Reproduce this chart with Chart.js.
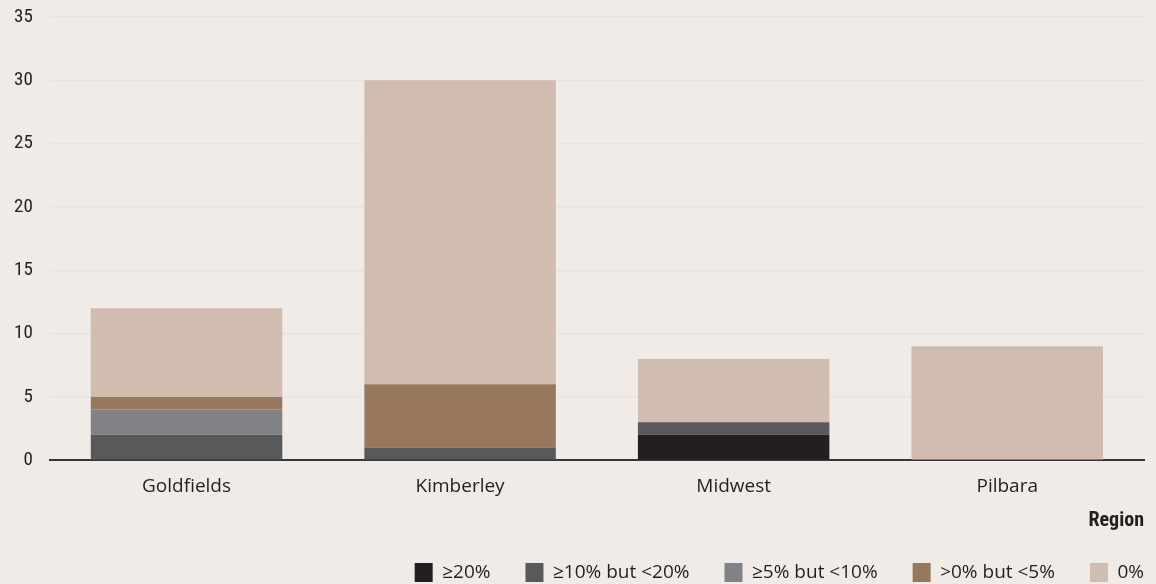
<!DOCTYPE html>
<html>
<head>
<meta charset="utf-8">
<script src="https://cdn.jsdelivr.net/npm/chart.js@4"></script>
<style>
  html, body { margin: 0; padding: 0; background: #f0ebe7; }
  #wrap { width: 1156px; height: 584px; }
</style>
</head>
<body>
<div id="wrap"><canvas id="c"></canvas></div>
<script>
// ── DATA ────────────────────────────────────────────────────────────────
const regions   = ['Goldfields', 'Kimberley', 'Midwest', 'Pilbara'];
const bandNames = ['≥20%', '≥10% but <20%', '≥5% but <10%', '>0% but <5%', '0%'];
const over20    = [0, 0, 2, 0];
const from10    = [2, 1, 1, 0];
const from5     = [2, 0, 0, 0];
const above0    = [1, 5, 0, 0];
const zero      = [7, 24, 5, 9];
const yTicks    = [0, 5, 10, 15, 20, 25, 30, 35];

const bandColors = ['#231f20', '#58595b', '#808285', '#98785c', '#d1bdb0'];
const series = [over20, from10, from5, above0, zero];

const datasets = series.map(function(vals, i) {
  return {
    label:           bandNames[i],
    data:            vals,
    backgroundColor: bandColors[i],
    borderWidth:     0,
    barPercentage:   0.7,
    categoryPercentage: 1
  };
});

const narrow = "'Roboto Condensed', 'Liberation Sans Narrow', 'Roboto', sans-serif";
const body   = "'Open Sans', sans-serif";
const LEGEND_PAD = 35;

// legend padding is wide for spacing between items; trim the extra height
// it adds and drop the trailing gap so the last item sits on the right edge
const legendTrim = {
  id: 'legendTrim',
  afterInit: function(chart) {
    const lg = chart.legend;
    if (!lg) return;
    const fit = lg.fit;
    lg.fit = function() {
      fit.call(this);
      this.height -= 8;
    };
    const draw = lg.draw;
    lg.draw = function() {
      const r = this.right;
      this.right = r + LEGEND_PAD;
      draw.call(this);
      this.right = r;
    };
  }
};

new Chart(document.getElementById('c'), {
  type: 'bar',
  data: { labels: regions, datasets: datasets },
  plugins: [legendTrim],
  options: {
    responsive:          true,
    maintainAspectRatio: false,
    animation:           false,
    layout: { padding: { top: 0, right: 12, left: -3, bottom: 0 } },
    plugins: {
      legend: {
        position: 'bottom',
        align:    'end',
        labels: {
          boxWidth:  18,
          boxHeight: 19,
          padding:   LEGEND_PAD,
          color:     '#231f20',
          font: { family: body, size: 19 }
        }
      },
      tooltip: { enabled: false }
    },
    scales: {
      x: {
        stacked: true,
        grid:   { display: false },
        border: { display: true, color: '#3a3536', width: 2 },
        ticks:  { color: '#231f20', font: { family: body, size: 19 }, padding: 7 },
        title: {
          display: true,
          text:    'Region',
          align:   'end',
          color:   '#231f20',
          font:    { family: narrow, size: 20, weight: 'bold' },
          padding: { top: 4, bottom: -5 }
        }
      },
      y: {
        stacked: true,
        min: 0,
        max: 35,
        afterBuildTicks: function(axis) {
          axis.ticks = yTicks.map(function(v) { return { value: v }; });
        },
        afterFit: function(axis) {
          axis.paddingTop = 17;
        },
        grid:   { color: '#e6e3e0', lineWidth: 1.5, drawTicks: false },
        border: { display: false },
        ticks:  { color: '#231f20', font: { family: narrow, size: 19 }, padding: 17 }
      }
    }
  }
});
</script>
</body>
</html>
